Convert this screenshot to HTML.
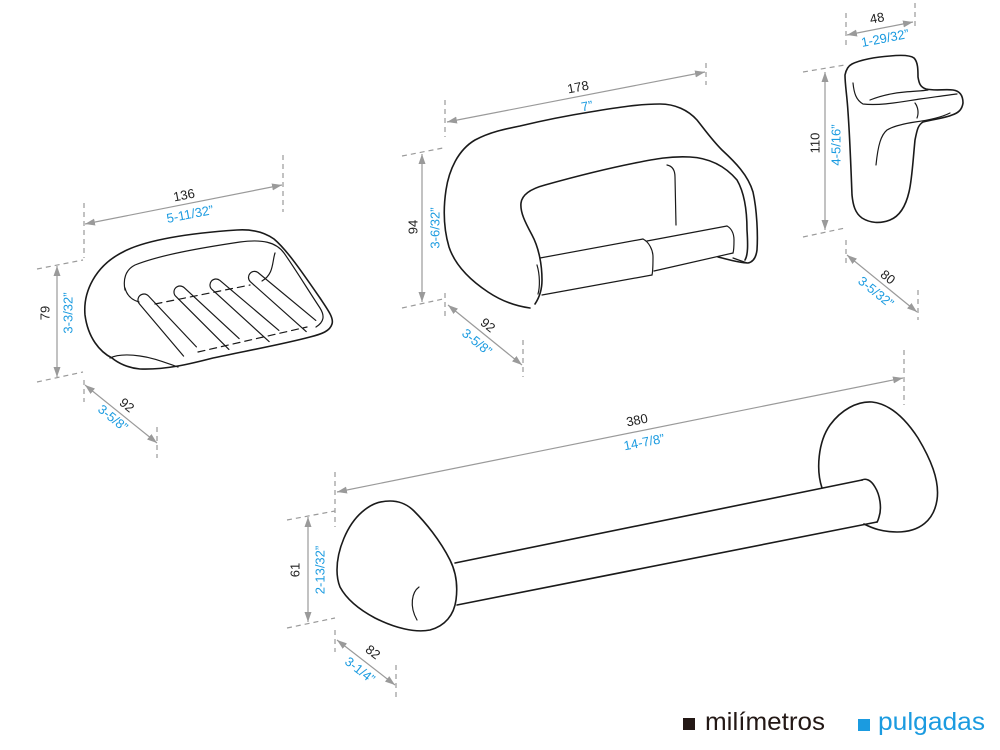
<!DOCTYPE html>
<html><head><meta charset="utf-8"><style>
html,body{margin:0;padding:0;background:#fff;}
svg{display:block;}
text{font-family:"Liberation Sans",Arial,sans-serif;}
.d{stroke:#9a9a9a;stroke-width:1.2;fill:none;marker-start:url(#ah);marker-end:url(#ah);}
.x{stroke:#9a9a9a;stroke-width:1.2;fill:none;stroke-dasharray:5,4;}
.o{stroke:#1a1a1a;stroke-width:1.6;fill:none;stroke-linejoin:round;stroke-linecap:round;}
.t{stroke:#1a1a1a;stroke-width:1.2;fill:none;stroke-linecap:round;}
.k{font-size:13px;fill:#222;}
.b{font-size:13px;fill:#1b9be0;}
</style></head><body>
<svg width="1000" height="750" viewBox="0 0 1000 750" xmlns="http://www.w3.org/2000/svg">
<defs>
<marker id="ah" viewBox="0 0 10 7" refX="10" refY="3.5" markerWidth="10" markerHeight="7" markerUnits="userSpaceOnUse" orient="auto-start-reverse">
<path d="M0,0 L10,3.5 L0,7 z" fill="#9a9a9a"/>
</marker>
</defs>

<!-- ===== SOAP DISH ===== -->
<line class="d" x1="85" y1="224" x2="282" y2="185"/>
<line class="x" x1="84" y1="203" x2="84" y2="258"/>
<line class="x" x1="283" y1="155" x2="283" y2="212"/>
<line class="d" x1="57" y1="266" x2="57" y2="377"/>
<line class="x" x1="37" y1="269" x2="83" y2="260"/>
<line class="x" x1="37" y1="382" x2="83" y2="372"/>
<line class="d" x1="85" y1="385" x2="157" y2="443"/>
<line class="x" x1="84" y1="380" x2="84" y2="402"/>
<line class="x" x1="157" y1="427" x2="157" y2="458"/>
<g transform="translate(184,195) rotate(-11)"><text class="k" x="0" y="4.5" text-anchor="middle">136</text></g>
<g transform="translate(190,214) rotate(-11)"><text class="b" x="0" y="4.5" text-anchor="middle">5-11/32”</text></g>
<g transform="translate(45,313) rotate(-90)"><text class="k" x="0" y="4.5" text-anchor="middle">79</text></g>
<g transform="translate(68,313) rotate(-90)"><text class="b" x="0" y="4.5" text-anchor="middle">3-3/32”</text></g>
<g transform="translate(127,405) rotate(39)"><text class="k" x="0" y="4.5" text-anchor="middle">92</text></g>
<g transform="translate(113,418) rotate(39)"><text class="b" x="0" y="4.5" text-anchor="middle">3-5/8”</text></g>

<path class="o" d="M112,358 C100,352 88,338 85,315 C83,292 95,266 123,252 C145,240 190,233 237,230 C252,229 264,232 274,239 C287,250 302,272 320,298 C328,310 334,318 332,324 C330,331 322,334 310,337 C280,345 240,352 213,358 C190,364 165,370 140,369 C128,368 118,363 112,358 Z"/>
<path class="t" d="M110,358 C116,355 126,354 140,356 C155,358 166,363 178,367"/>
<path class="t" d="M125,290 C123,280 125,270 135,265 C160,255 200,248 240,242 C262,239 276,242 284,253 C296,270 308,290 320,308 C325,316 324,322 316,327"/>
<path class="t" d="M275,253 C272,262 274,274 262,281"/>
<path class="t" d="M125,288 C127,296 132,300 139,302"/>
<path class="t" d="M155,304 L250,285" stroke-dasharray="7,5"/>
<path class="t" d="M198,352 L307,327" stroke-dasharray="7,5"/>
<path class="t" fill="#fff" d="M183.6,356.1 L139.6,304.1 A6,6 0 0 1 148.4,295.9 L196.4,346.9"/>
<path class="t" fill="#fff" d="M228.9,349.4 L175.9,296.4 A6,6 0 0 1 184.1,287.6 L239.1,338.6"/>
<path class="t" fill="#fff" d="M269.1,341.6 L212.1,289.6 A6,6 0 0 1 219.9,280.4 L278.9,330.4"/>
<path class="t" fill="#fff" d="M306.2,331.6 L250.2,281.6 A6,6 0 0 1 257.8,272.4 L315.8,320.4"/>

<!-- ===== TOILET PAPER HOLDER ===== -->
<line class="d" x1="447" y1="122" x2="705" y2="72"/>
<line class="x" x1="445" y1="100" x2="445" y2="137"/>
<line class="x" x1="706" y1="63" x2="706" y2="85"/>
<line class="d" x1="422" y1="154" x2="422" y2="302"/>
<line class="x" x1="402" y1="156" x2="443" y2="148"/>
<line class="x" x1="402" y1="308" x2="443" y2="299"/>
<line class="d" x1="448" y1="305" x2="522" y2="365"/>
<line class="x" x1="445" y1="293" x2="445" y2="318"/>
<line class="x" x1="523" y1="340" x2="523" y2="377"/>
<g transform="translate(578,87) rotate(-11)"><text class="k" x="0" y="4.5" text-anchor="middle">178</text></g>
<g transform="translate(587,106) rotate(-11)"><text class="b" x="0" y="4.5" text-anchor="middle">7”</text></g>
<g transform="translate(413,227) rotate(-90)"><text class="k" x="0" y="4.5" text-anchor="middle">94</text></g>
<g transform="translate(435,228) rotate(-90)"><text class="b" x="0" y="4.5" text-anchor="middle">3-6/32”</text></g>
<g transform="translate(488,325) rotate(39)"><text class="k" x="0" y="4.5" text-anchor="middle">92</text></g>
<g transform="translate(477,342) rotate(39)"><text class="b" x="0" y="4.5" text-anchor="middle">3-5/8”</text></g>

<path class="o" d="M530,308 C515,306 500,300 488,292 C470,280 455,265 449,247 C444,230 443,210 446,190 C449,170 458,150 475,140 C490,132 505,129 520,126 C545,120 565,116 590,112 C620,107 640,104 660,104 C675,104 688,110 697,120 C705,130 712,140 722,150 C735,162 748,175 753,192 C757,210 758,235 757,250 C756,258 753,262 748,263 C740,263 730,260 718,257"/>
<path class="o" d="M535,304 C539,298 542,290 542,280 C542,265 539,248 532,235 C525,222 520,212 521,203 C522,195 530,189 545,185 C570,178 600,170 635,163 C655,159 670,156 690,157 C710,158 725,166 737,180 C744,192 747,210 747,230 C748,245 748,255 745,260"/>
<path class="t" d="M733,258 L747,263"/>
<path class="t" d="M667,165 C672,166 675,170 675,177 L676,225" stroke="#555"/>
<path class="t" d="M540,258 L643,239"/>
<path class="t" d="M542,295 L652,275"/>
<path class="t" d="M643,239 C649,242 653,250 653,257 C653,265 653,271 652,275"/>
<path class="t" d="M647,241 L727,226"/>
<path class="t" d="M654,271 L733,253"/>
<path class="t" d="M727,226 C731,228 734,233 734,240 C734,246 734,250 733,253"/>
<path class="t" d="M537,265 C540,275 540,287 538,294"/>

<!-- ===== HOOK ===== -->
<line class="d" x1="847" y1="35" x2="913" y2="22"/>
<line class="x" x1="846" y1="13" x2="846" y2="47"/>
<line class="x" x1="915" y1="3" x2="915" y2="27"/>
<line class="d" x1="825" y1="72" x2="825" y2="230"/>
<line class="x" x1="803" y1="72" x2="845" y2="65"/>
<line class="x" x1="803" y1="237" x2="845" y2="228"/>
<line class="d" x1="847" y1="255" x2="917" y2="312"/>
<line class="x" x1="846" y1="240" x2="846" y2="264"/>
<line class="x" x1="918" y1="290" x2="918" y2="320"/>
<g transform="translate(877,18) rotate(-11)"><text class="k" x="0" y="4.5" text-anchor="middle">48</text></g>
<g transform="translate(885,38) rotate(-11)"><text class="b" x="0" y="4.5" text-anchor="middle">1-29/32”</text></g>
<g transform="translate(815,143) rotate(-90)"><text class="k" x="0" y="4.5" text-anchor="middle">110</text></g>
<g transform="translate(836,145) rotate(-90)"><text class="b" x="0" y="4.5" text-anchor="middle">4-5/16”</text></g>
<g transform="translate(888,277) rotate(39)"><text class="k" x="0" y="4.5" text-anchor="middle">80</text></g>
<g transform="translate(876,292) rotate(39)"><text class="b" x="0" y="4.5" text-anchor="middle">3-5/32”</text></g>

<path class="o" d="M845,75 C846,70 848,66 852,64 C860,60 875,57 890,56 C900,55 910,55 914,58 C918,62 918,70 918,77 C919,83 920,87 926,89 C935,91 945,89 953,90 C960,91 963,96 963,103 C962,110 958,113 952,115 C945,118 935,119 923,122 C918,125 917,130 915,140 C913,160 912,180 909,192 C906,205 900,216 890,220 C880,224 870,223 862,218 C855,213 853,205 852,195 C851,170 850,140 848,112 C847,95 845,85 845,75 Z"/>
<path class="t" d="M853,83 C854,93 856,100 863,104 C880,106 900,102 920,99 C935,97 948,95 957,94"/>
<path class="t" d="M870,100 C880,96 893,93 905,92 C915,91 922,91 928,90"/>
<path class="t" d="M915,103 C918,107 919,113 917,118"/>
<path class="t" d="M950,113 C942,117 930,120 915,122 C902,124 892,127 887,130 C881,135 878,145 876,165"/>

<!-- ===== TOWEL BAR ===== -->
<line class="d" x1="337" y1="492" x2="903" y2="378"/>
<line class="x" x1="335" y1="472" x2="335" y2="527"/>
<line class="x" x1="904" y1="350" x2="904" y2="405"/>
<line class="d" x1="308" y1="517" x2="308" y2="622"/>
<line class="x" x1="287" y1="520" x2="335" y2="511"/>
<line class="x" x1="287" y1="628" x2="335" y2="618"/>
<line class="d" x1="337" y1="640" x2="395" y2="685"/>
<line class="x" x1="335" y1="630" x2="335" y2="652"/>
<line class="x" x1="396" y1="665" x2="396" y2="697"/>
<g transform="translate(637,420) rotate(-11)"><text class="k" x="0" y="4.5" text-anchor="middle">380</text></g>
<g transform="translate(644,442) rotate(-11)"><text class="b" x="0" y="4.5" text-anchor="middle">14-7/8”</text></g>
<g transform="translate(295,570) rotate(-90)"><text class="k" x="0" y="4.5" text-anchor="middle">61</text></g>
<g transform="translate(320,570) rotate(-90)"><text class="b" x="0" y="4.5" text-anchor="middle">2-13/32”</text></g>
<g transform="translate(373,652) rotate(38)"><text class="k" x="0" y="4.5" text-anchor="middle">82</text></g>
<g transform="translate(360,670) rotate(38)"><text class="b" x="0" y="4.5" text-anchor="middle">3-1/4”</text></g>

<path class="o" d="M337,570 C337,550 347,525 362,512 C370,505 378,501 390,501 C400,501 408,505 414,511 C425,522 440,540 450,560 C456,572 458,585 456,600 C454,615 445,626 430,630 C415,633 395,628 375,618 C360,610 347,600 340,587 C338,582 337,576 337,570 Z"/>
<path class="t" d="M419,587 C412,592 409,606 417,620"/>
<path class="o" d="M455,563 L862,480"/>
<path class="o" d="M457,605 L877,522"/>
<path class="o" d="M862,480 C866,478 871,480 875,487 C880,495 882,508 879,517 C878,520 878,521 877,522"/>
<path class="o" d="M822,488 C816,470 818,442 830,425 C841,410 857,401 872,402 C890,404 905,418 918,438 C930,458 940,480 937,500 C934,520 920,532 897,532 C882,532 872,528 864,524"/>

<!-- ===== LEGEND ===== -->
<rect x="683" y="718" width="12" height="12" fill="#231815"/>
<text x="705" y="730" font-size="25" fill="#231815" textLength="120" lengthAdjust="spacingAndGlyphs">milímetros</text>
<rect x="858" y="719" width="12" height="12" fill="#1b9be0"/>
<text x="878" y="730" font-size="25" fill="#1b9be0" textLength="107" lengthAdjust="spacingAndGlyphs">pulgadas</text>
</svg>
</body></html>
